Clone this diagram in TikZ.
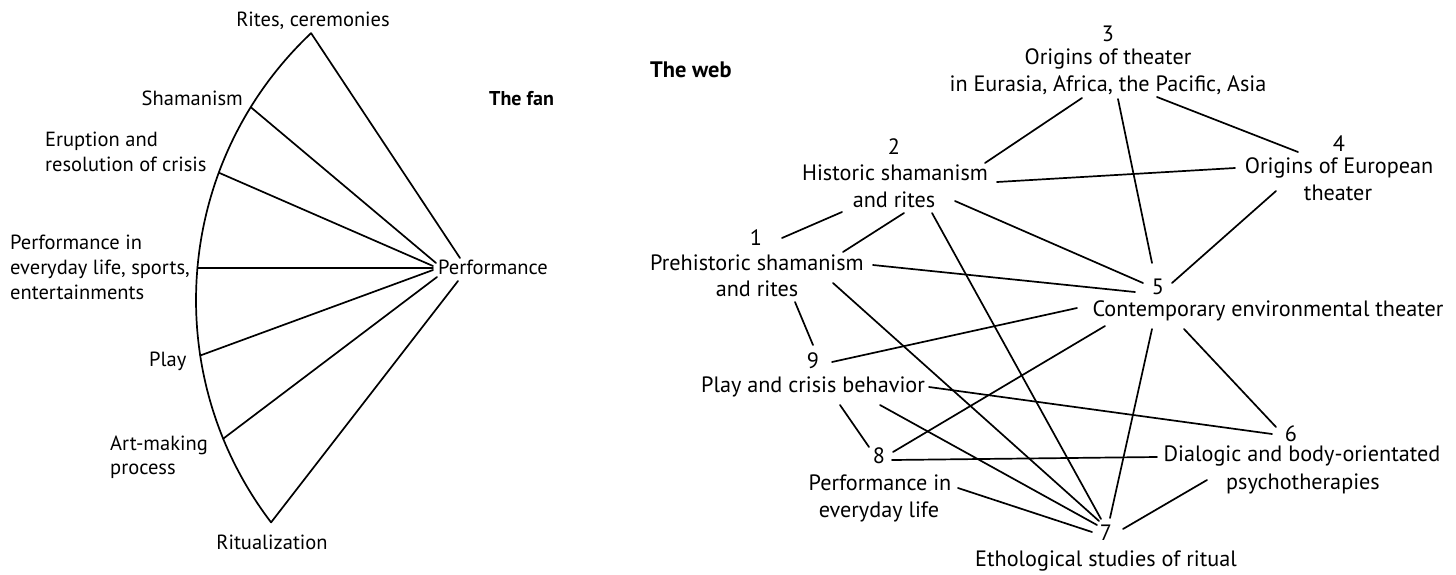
\documentclass[tikz,border=0pt]{standalone}
\usepackage{fontspec}
\setmainfont{PT Sans}
\usetikzlibrary{calc}
\begin{document}
\begin{tikzpicture}[x=1pt,y=-1pt,
  lbl/.style={font=\fontsize{20.5}{24}\selectfont, inner sep=0pt, anchor=base},
  lblw/.style={lbl, anchor=base west},
  lble/.style={lbl, anchor=base east},
  lblr/.style={font=\fontsize{22.2}{26}\selectfont, inner sep=0pt, anchor=base},
  ttl/.style={font=\fontsize{20}{24}\selectfont\bfseries, inner sep=0pt, anchor=base west},
  ttlr/.style={font=\fontsize{22.4}{26}\selectfont\bfseries, inner sep=0pt, anchor=base west},
  ln/.style={line width=1.7pt, line cap=round, line join=round}]
\useasboundingbox[fill=white] (0,0) rectangle (1456,574);

% ---------------- The fan ----------------
\coordinate (C) at (563,300);
\coordinate (ftop)  at ($(C)+(-133.35:367)$);
\coordinate (fsham) at ($(C)+(-148.3:367)$);
\coordinate (ferup) at ($(C)+(-159.7:367)$);
\coordinate (fperf) at ($(C)+(-175:367)$);
\coordinate (fplay) at ($(C)+(-188.7:367)$);
\coordinate (fart)  at ($(C)+(-202.2:367)$);
\coordinate (fbot)  at ($(C)+(-217.3:367)$);

\coordinate (h0) at (460,258);
\coordinate (h1) at (436,263);
\coordinate (h2) at (433,266);
\coordinate (h3) at (433,268);
\coordinate (h4) at (433,270);
\coordinate (h5) at (437,277);
\coordinate (h6) at (458,281);

\draw[ln] (ftop) arc[start angle=-133.35, end angle=-217.3, radius=367];
\draw[ln] (ftop) -- (h0);
\draw[ln] (fsham) -- (h1);
\draw[ln] (ferup) -- (h2);
\draw[ln] (fperf) -- (h3);
\draw[ln] (fplay) -- (h4);
\draw[ln] (fart) -- (h5);
\draw[ln] (fbot) -- (h6);

\node[lblw] (perf) at (438,274) {Performance};
\node[lbl] (rites) at (313,26) {Rites, ceremonies};
\node[lble] (sham) at (243,105) {Shamanism};
\node[lblw] (erup1) at (45,146) {Eruption and};
\node[lblw] (erup2) at (45,171) {resolution of crisis};
\node[lblw] (pel1) at (10,249) {Performance in};
\node[lblw] (pel2) at (10,274) {everyday life, sports,};
\node[lblw] (pel3) at (10,299) {entertainments};
\node[ttl] (fan) at (489,105) {The fan};
\node[lblw] (play) at (149,366) {Play};
\node[lblw] (art1) at (110,450) {Art-making};
\node[lblw] (art2) at (110,474) {process};
\node[lbl] (ritz) at (272,549) {Ritualization};

% ---------------- The web ----------------
\node[ttlr] (web) at (650,77) {The web};
\node[lblr] (n3)  at (1108,41) {3};
\node[lblr] (n3a) at (1108,64) {Origins of theater};
\node[lblr] (n3b) at (1108,91) {in Eurasia, Africa, the Pacific, Asia};
\node[lblr] (n2)  at (894,154) {2};
\node[lblr] (n2a) at (895,180) {Historic shamanism};
\node[lblr] (n2b) at (894,207) {and rites};
\node[lblr] (n1)  at (756,245) {1};
\node[lblr] (n1a) at (757,270) {Prehistoric shamanism};
\node[lblr] (n1b) at (757,296) {and rites};
\node[lblr] (n4)  at (1339,151) {4};
\node[lblr] (n4a) at (1339,173) {Origins of European};
\node[lblr] (n4b) at (1338,200) {theater};
\node[lblr] (n5)  at (1158,294) {5};
\node[lblr] (n5a) at (1268,316) {Contemporary environmental theater};
\node[lblr] (n6)  at (1291,441) {6};
\node[lblr] (n6a) at (1302,461) {Dialogic and body-orientated};
\node[lblr] (n6b) at (1303,489) {psychotherapies};
\node[lblr] (n7)  at (1106,540) {7};
\node[lblr] (n7a) at (1106,566) {Ethological studies of ritual};
\node[lblr] (n9)  at (813,368) {9};
\node[lblr] (n9a) at (813,392) {Play and crisis behavior};
\node[lblr] (n8)  at (879,463) {8};
\node[lblr] (n8a) at (880,490) {Performance in};
\node[lblr] (n8b) at (879,517) {everyday life};

% connector ends
\coordinate (a2-3) at (985,163);  \coordinate (a3-2) at (1082,98);
\coordinate (a2-4) at (997,182);  \coordinate (a4-2) at (1235,168);
\coordinate (a3-5) at (1118,99);  \coordinate (a5-3) at (1152,263);
\coordinate (a3-4) at (1157,97);  \coordinate (a4-3) at (1298,152);
\coordinate (a4-5) at (1276,191); \coordinate (a5-4) at (1172,283);
\coordinate (a2-5) at (955,201);  \coordinate (a5-2) at (1143,283);
\coordinate (a1-5) at (873,265);  \coordinate (a5-1) at (1135,292);
\coordinate (a1-2) at (782,238);  \coordinate (a2-1) at (842,212);
\coordinate (b1-2) at (843,252);  \coordinate (b2-1) at (904,213);
\coordinate (a2-7) at (932,213);  \coordinate (a7-2) at (1101,519);
\coordinate (a1-7) at (833,283);  \coordinate (a7-1) at (1099,521);
\coordinate (a1-9) at (795,302);  \coordinate (a9-1) at (813,345);
\coordinate (a9-5) at (832,362);  \coordinate (a5-9) at (1077,308);
\coordinate (a9-6) at (929,387);  \coordinate (a6-9) at (1272,434);
\coordinate (a9-8) at (840,405);  \coordinate (a8-9) at (869,447);
\coordinate (a9-7) at (880,405);  \coordinate (a7-9) at (1097,525);
\coordinate (a8-5) at (893,452);  \coordinate (a5-8) at (1105,326);
\coordinate (a8-6) at (892,460);  \coordinate (a6-8) at (1157,457);
\coordinate (a8-7) at (958,488);  \coordinate (a7-8) at (1092,532);
\coordinate (a5-7) at (1152,329); \coordinate (a7-5) at (1110,518);
\coordinate (a5-6) at (1184,329); \coordinate (a6-5) at (1276,427);
\coordinate (a6-7) at (1207,480); \coordinate (a7-6) at (1123,529);

\foreach \p/\q in {a2-3/a3-2, a2-4/a4-2, a3-5/a5-3, a3-4/a4-3, a4-5/a5-4,
  a2-5/a5-2, a1-5/a5-1, a1-2/a2-1, b1-2/b2-1, a2-7/a7-2, a1-7/a7-1,
  a1-9/a9-1, a9-5/a5-9, a9-6/a6-9, a9-8/a8-9, a9-7/a7-9, a8-5/a5-8,
  a8-6/a6-8, a8-7/a7-8, a5-7/a7-5, a5-6/a6-5, a6-7/a7-6}
  \draw[ln] (\p) -- (\q);
\end{tikzpicture}
\end{document}
